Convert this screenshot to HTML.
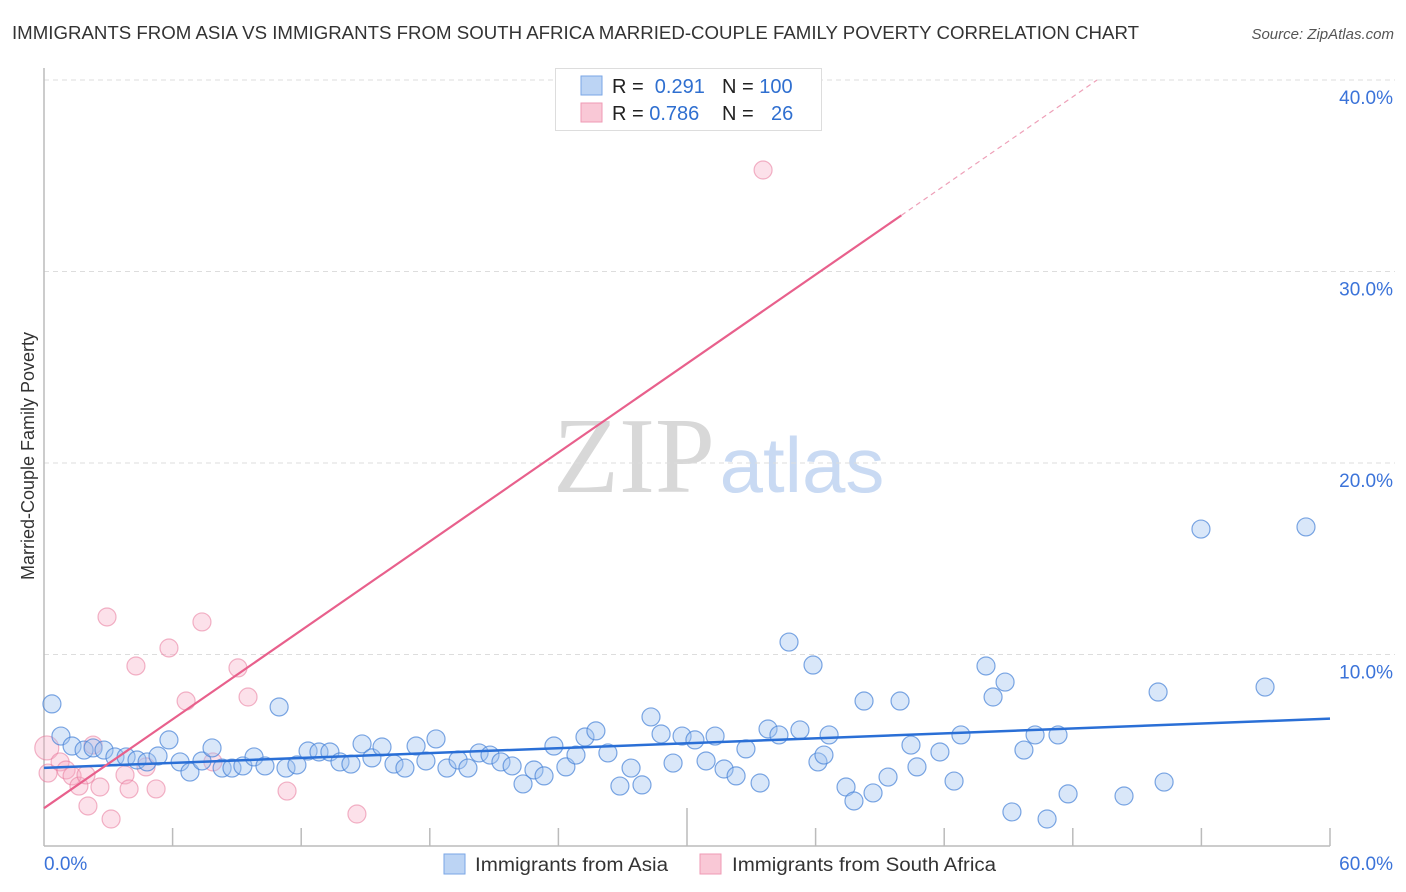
<!DOCTYPE html>
<html><head><meta charset="utf-8"><style>
body{margin:0;background:#fff;font-family:"Liberation Sans",sans-serif;}
svg{display:block}
</style></head><body>
<svg id="chart" width="1406" height="892" xmlns="http://www.w3.org/2000/svg">
<text x="12" y="39" font-size="18" fill="#333" textLength="1127" lengthAdjust="spacingAndGlyphs">IMMIGRANTS FROM ASIA VS IMMIGRANTS FROM SOUTH AFRICA MARRIED-COUPLE FAMILY POVERTY CORRELATION CHART</text>
<text x="1394" y="39" font-size="15" fill="#555" font-style="italic" text-anchor="end">Source: ZipAtlas.com</text>
<text x="634" y="492" font-size="108" fill="#d8d8d8" font-family="Liberation Serif, serif" text-anchor="middle">ZIP</text>
<text x="802" y="492" font-size="78" fill="#c9daf3" text-anchor="middle">atlas</text>
<text transform="translate(34,456) rotate(-90)" font-size="18" fill="#333" text-anchor="middle">Married-Couple Family Poverty</text>
<g id="grid"></g><g id="axes"></g><g id="pts"></g><g id="lines"></g>
<g>
<rect x="555.5" y="68.5" width="266" height="62" fill="#fff" stroke="#ddd"/>
<rect x="581" y="76" width="21" height="19" fill="#bcd4f4" stroke="#7aa6e6"/>
<rect x="581" y="103" width="21" height="19" fill="#f9c8d6" stroke="#ef9ab4"/>
<text x="612" y="93" font-size="20" fill="#222">R = <tspan fill="#2f6fd0">&#160;0.291</tspan><tspan x="722">N = </tspan><tspan fill="#2f6fd0">100</tspan></text>
<text x="612" y="120" font-size="20" fill="#222">R = <tspan fill="#2f6fd0">0.786</tspan><tspan x="722">N = </tspan><tspan fill="#2f6fd0" x="771">26</tspan></text>
</g>
<g>
<rect x="444" y="854" width="21" height="20" fill="#bcd4f4" stroke="#7aa6e6"/>
<text x="475" y="871" font-size="19" fill="#333" textLength="193" lengthAdjust="spacingAndGlyphs">Immigrants from Asia</text>
<rect x="700" y="854" width="21" height="20" fill="#f9c8d6" stroke="#ef9ab4"/>
<text x="732" y="871" font-size="19" fill="#333" textLength="264" lengthAdjust="spacingAndGlyphs">Immigrants from South Africa</text>
</g>
</svg>
<script>
const asiaX=[0.37,0.79,1.31,1.87,2.29,2.80,3.31,3.83,4.34,4.81,5.32,5.83,6.35,6.81,7.37,7.84,8.31,8.77,9.28,9.80,10.31,10.97,11.29,11.80,12.32,12.83,13.34,13.81,14.32,14.84,15.30,15.77,16.33,16.84,17.36,17.82,18.29,18.80,19.32,19.78,20.30,20.81,21.32,21.84,22.35,22.86,23.33,23.79,24.35,24.82,25.24,25.75,26.31,26.87,27.39,27.90,28.32,28.79,29.35,29.77,30.37,30.89,31.31,31.73,32.29,32.75,33.41,33.78,34.29,34.76,35.27,35.88,36.11,36.39,36.63,37.42,37.79,38.26,38.68,39.38,39.94,40.45,40.73,41.80,42.46,42.78,43.95,44.28,44.84,45.16,45.72,46.24,46.80,47.31,47.78,50.39,51.98,52.26,53.98,56.97,58.88];
const asiaY=[7.42,5.74,5.22,5.01,5.12,5.01,4.65,4.65,4.49,4.39,4.70,5.54,4.39,3.86,4.44,5.12,4.07,4.07,4.18,4.65,4.18,7.26,4.07,4.23,4.96,4.91,4.91,4.39,4.28,5.33,4.60,5.17,4.28,4.07,5.22,4.44,5.59,4.07,4.49,4.07,4.86,4.75,4.39,4.18,3.24,3.97,3.66,5.22,4.13,4.75,5.69,6.01,4.86,3.13,4.07,3.19,6.74,5.85,4.33,5.74,5.54,4.44,5.74,4.02,3.66,5.07,3.29,6.11,5.80,10.65,6.06,9.45,4.39,4.75,5.80,3.08,2.35,7.57,2.77,3.60,7.57,5.27,4.13,4.91,3.39,5.80,9.40,7.78,8.56,1.78,5.01,5.80,1.41,5.80,2.72,2.61,8.04,3.34,16.55,8.30,16.66];
const saX=[0.13,0.19,0.75,1.03,1.31,1.63,2.05,2.29,2.61,3.13,2.94,3.78,3.97,4.29,4.76,5.23,5.83,6.63,7.37,7.88,9.05,9.52,11.34,14.60,33.55,1.96];
const saY=[5.12,3.81,4.39,3.97,3.66,3.13,2.09,5.27,3.08,1.41,11.96,3.71,2.98,9.40,4.13,2.98,10.34,7.57,11.70,4.39,9.30,7.78,2.87,1.67,35.30,3.71];
const yTicks=[10,20,30,40];
const yTickLabels=["10.0%","20.0%","30.0%","40.0%"];
const xTickVals=[6,12,18,24,30,36,42,48,54,60];
const xEndLabels=["0.0%","60.0%"];
const NS="http://www.w3.org/2000/svg";
const X0=44,X1=1330,Y0=846,PER=19.15;
function sx(v){return X0+v*(X1-X0)/60;}
function sy(v){return Y0-v*PER;}
function mk(t,a,p){const e=document.createElementNS(NS,t);for(const k in a)e.setAttribute(k,a[k]);p.appendChild(e);return e;}
const grid=document.getElementById('grid'),axes=document.getElementById('axes'),pts=document.getElementById('pts'),lines=document.getElementById('lines');
yTicks.forEach((v,i)=>{
 const l=mk('line',{x1:X0,x2:1395,y1:sy(v),y2:sy(v),stroke:'#ddd','stroke-dasharray':'5,4'},grid);
 
 
 const t=mk('text',{x:1393,y:sy(v)+24,'font-size':19,fill:'#3b73d9','text-anchor':'end'},grid);
 t.textContent=yTickLabels[i];
 
 
});
let a=mk('line',{x1:X0,x2:X0,y1:68,y2:Y0,stroke:'#bbb','stroke-width':1.5},axes);


a=mk('line',{x1:X0,x2:X1,y1:Y0,y2:Y0,stroke:'#bbb','stroke-width':1.5},axes);


xTickVals.forEach(v=>{
 const t=mk('line',{x1:sx(v),x2:sx(v),y1:v===30?808:828,y2:Y0,stroke:'#bbb','stroke-width':1.5},axes);
 
 
});
[[0,'start',44],[60,'end',1393]].forEach((d,i)=>{
 const t=mk('text',{x:d[2],y:870,'font-size':19,fill:'#3b73d9','text-anchor':d[1]},axes);
 t.textContent=xEndLabels[i];
 
 
});
function dots(xs,ys,fill,stroke,name,big){
 xs.forEach((x,i)=>{
  const r=(big&&i===0)?12:9;
  const c=mk('circle',{cx:sx(x),cy:sy(ys[i]),r:r,fill:fill,stroke:stroke,'stroke-width':1.2},pts);
  
  
 });
}
dots(saX,saY,'rgba(246,170,195,0.35)','rgba(232,120,155,0.55)','south-africa-point',true);
dots(asiaX,asiaY,'rgba(160,195,240,0.4)','rgba(70,130,215,0.7)','asia-point',false);
function fit(xs,ys){const n=xs.length;let mx=0,my=0;xs.forEach((x,i)=>{mx+=x;my+=ys[i];});mx/=n;my/=n;let sxy=0,sxx=0;xs.forEach((x,i)=>{sxy+=(x-mx)*(ys[i]-my);sxx+=(x-mx)*(x-mx);});const b=sxy/sxx;return [my-b*mx,b];}
const fa=fit(asiaX,asiaY);
let ln=mk('line',{x1:sx(0),y1:sy(fa[0]),x2:sx(60),y2:sy(fa[0]+fa[1]*60),stroke:'#2a6fd6','stroke-width':2.5},lines);


const fs=fit(saX,saY);
const xs1=40,xe=(40-fs[0])/fs[1];
ln=mk('line',{x1:sx(0),y1:sy(fs[0]),x2:sx(xs1),y2:sy(fs[0]+fs[1]*xs1),stroke:'#e8608c','stroke-width':2.2},lines);


ln=mk('line',{x1:sx(xs1),y1:sy(fs[0]+fs[1]*xs1),x2:sx(xe),y2:sy(40),stroke:'#eea0b8','stroke-width':1.2,'stroke-dasharray':'5,4'},lines);


</script>
</body></html>
